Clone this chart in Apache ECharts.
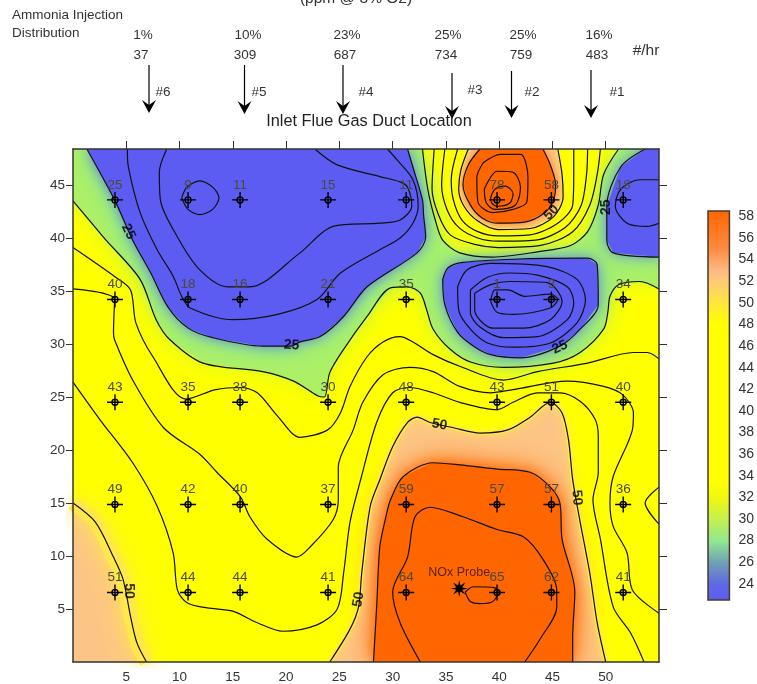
<!DOCTYPE html>
<html>
<head>
<meta charset="utf-8">
<style>html,body{margin:0;padding:0;background:#fff}#c{width:757px;height:684px}</style>
<script src="https://cdn.jsdelivr.net/npm/echarts@6/dist/echarts.min.js"></script>
</head>
<body>
<div id="c"></div>
<script>
// ---- axis values
const xTicks = [5,10,15,20,25,30,35,40,45,50];
const yTicks = [5,10,15,20,25,30,35,40,45];
const barTicks = [24,26,28,30,32,34,36,38,40,42,44,46,48,50,52,54,56,58];
const xMax = 55, yMax = 48.4;

// ---- measured grid
const probeX = [3.94,10.8,15.68,23.94,31.27,39.8,44.9,51.64];
const probeY = [43.6,34.2,24.5,14.86,6.56];
const row1 = [25,9,11,15,11,78,58,18];
const row2 = [40,18,16,21,35,1,3,34];
const row3 = [43,35,38,30,48,43,51,40];
const row4 = [49,42,40,37,59,57,57,36];
const row5 = [51,44,44,41,64,65,62,41];
const noxProbe = [36.25,6.93];

// ---- injection labels
const injectionPct = ['1%','10%','23%','25%','25%','16%'];
const injectionRate = ['37','309','687','734','759','483'];
const burners = ['#6','#5','#4','#3','#2','#1'];

// ---- contours, [x, y] in duct units
const c10a = [[10.2,43.8],[10.7,44.8],[11.9,45.4],[13.1,44.8],[13.7,43.8],[13.1,42.7],[11.9,42.2],[10.8,42.7],[10.2,43.8]];
const c15a = [[8.8,48.4],[8.1,46.2],[8.2,43.6],[9.8,40.1],[11.9,37.0],[14.5,35.4],[16.6,35.4],[21.3,38.6],[24.4,41.1],[28.8,41.4],[30.7,41.7],[31.8,43.0],[31.4,44.8],[30.7,45.3],[28.8,45.8],[24.8,46.9],[22.7,48.4]];
const c20a = [[5.1,48.4],[5.2,46.7],[6.3,42.4],[7.9,38.9],[9.4,36.4],[10.2,34.5],[11.0,33.4],[15.0,32.3],[19.2,32.8],[22.9,34.2],[25.1,36.7],[28.8,38.9],[30.7,40.0],[31.9,41.4],[32.4,43.0],[31.9,45.5],[30.4,47.4],[29.5,48.4]];
const c25a = [[1.3,48.4],[3.9,43.6],[5.6,39.8],[7.3,36.7],[8.9,33.5],[10.8,31.5],[13.1,30.6],[17.8,29.8],[20.5,29.8],[21.3,30.2],[23.2,30.7],[25.4,32.6],[27.6,35.4],[32.3,38.6],[33.1,40.1],[32.9,42.2],[32.8,43.6],[31.9,46.7],[31.4,48.4]];
const c25b = [[34.7,36.1],[35.2,37.2],[36.6,37.7],[41.3,38.0],[48.3,38.1],[49.2,37.5],[49.3,33.7],[47.6,31.4],[45.7,29.8],[42.0,28.7],[39.2,29.0],[37.6,29.8],[36.1,31.1],[34.9,33.7],[34.7,36.1]];
const c20b = [[36.1,35.4],[37.0,37.0],[39.2,37.6],[44.5,37.3],[47.3,36.1],[48.1,34.2],[47.3,32.0],[44.8,30.1],[41.3,29.7],[38.9,30.1],[37.3,31.4],[36.2,33.2],[36.1,35.4]];
const c15b = [[37.3,35.1],[38.9,36.3],[41.0,36.7],[43.6,36.5],[46.4,35.4],[47.0,33.9],[46.4,32.3],[43.6,30.7],[40.4,30.6],[38.2,31.6],[37.3,33.0],[37.3,35.1]];
const c10b = [[37.7,34.8],[39.2,35.6],[41.0,35.9],[44.5,35.8],[45.9,34.0],[44.8,32.3],[42.3,31.5],[39.4,31.5],[37.7,33.2],[37.7,34.8]];
const c5b = [[39.2,34.0],[39.6,35.1],[40.8,35.1],[42.4,34.5],[44.8,34.7],[45.5,34.2],[44.8,33.4],[41.3,32.8],[39.8,33.0],[39.2,34.0]];
const c25c = [[53.7,48.4],[51.4,46.7],[50.1,43.0],[50.1,39.8],[50.7,38.6],[55,38.2]];
const c20c = [[55,45.5],[53.2,45.5],[51.4,44.6],[50.9,43.0],[52.0,41.4],[53.9,41.1],[55,41.4]];
const c30a = [[0,43.5],[2.5,40.5],[3.1,39.8],[6.3,36.1],[7.8,32.3],[9.1,30.4],[12.2,28.2],[17.8,27.4],[20.7,26.5],[23.0,25.1],[23.6,25.0],[24.1,27.3],[25.4,29.5],[27.6,32.6],[29.8,35.3],[31.4,35.4],[32.6,34.8],[33.2,33.2],[33.8,31.4],[35.4,29.5],[37.3,28.3],[40.4,27.8],[45.1,28.2],[47.6,29.2],[49.8,31.4],[50.2,33.0],[50.4,34.5],[51.2,35.6],[53.2,35.9],[55,35.2]];
const c35a = [[0,39.1],[4.0,36.3],[5.4,35.1],[5.9,32.0],[7.5,28.8],[10.6,24.8],[13.4,25.7],[15.7,25.9],[17.3,25.4],[19.2,23.2],[21.3,21.2],[23.9,21.9],[25.1,23.5],[26.0,26.0],[27.6,28.8],[29.1,30.2],[30.7,30.7],[31.9,30.2],[33.8,29.0],[36.3,27.9],[40.4,26.6],[43.6,27.4],[48.3,28.2],[52.6,29.2],[53.9,29.2],[55,28.6]];
const c35b = [[55,16.5],[53.7,15.0],[55,13.0]];
const c40a = [[0,35.2],[3.9,34.2],[3.8,31.1],[3.9,30.4],[5.6,26.6],[8.5,22.1],[11.9,19.6],[13.5,17.9],[15.7,15.6],[16.6,13.7],[18.2,11.6],[21.0,9.9],[22.3,10.9],[24.4,13.4],[24.9,15.3],[24.9,18.4],[26.3,21.9],[27.2,24.5],[29.1,27.1],[31.6,27.8],[33.8,27.4],[36.3,26.0],[39.2,25.4],[41.3,25.7],[46.4,26.5],[49.8,26.0],[51.6,25.2],[52.6,23.5],[52.5,21.9],[50.7,17.5],[50.4,15.0],[50.7,12.8],[52.0,10.3],[52.5,6.8],[55,4.6]];
const c45a = [[0,26.4],[2.5,22.9],[5.6,18.8],[7.9,14.7],[9.4,10.3],[9.8,6.8],[10.7,5.6],[12.6,5.1],[15.0,4.8],[17.3,3.7],[19.7,2.9],[22.9,3.5],[24.8,5.0],[25.4,8.4],[26.0,13.2],[27.0,17.2],[28.5,22.6],[30.0,25.4],[31.6,25.9],[33.8,25.4],[36.3,24.5],[39.8,23.8],[41.3,24.5],[43.6,25.4],[45.7,25.4],[47.6,24.6],[49.0,22.9],[49.3,21.3],[49.3,17.9],[48.8,15.3],[49.5,11.6],[50.7,5.2],[52.3,2.8],[53.6,0]];
const c50a = [[0,15.0],[2.1,13.2],[3.8,9.9],[4.7,7.8],[5.4,4.3],[6.0,1.8],[6.9,0]];
const c50b = [[24.1,0],[26.0,3.1],[26.8,5.2],[27.1,8.4],[27.9,14.7],[28.8,17.2],[30.0,20.3],[31.4,22.6],[32.3,23.1],[33.5,22.6],[35.7,22.1],[38.2,21.6],[40.8,21.9],[42.9,23.1],[44.8,24.5],[45.9,23.5],[46.5,21.0],[46.9,17.2],[47.6,13.2],[48.5,8.4],[49.2,3.7],[50.0,0]];
const c55b = [[28.2,0],[28.5,5.2],[28.8,10.9],[29.3,13.4],[29.8,15.3],[31.0,17.5],[33.8,18.8],[36.3,18.6],[39.8,18.2],[42.9,17.9],[44.8,16.5],[45.7,15.0],[45.9,11.6],[47.1,6.6],[46.9,2.4],[46.9,0]];
const c60b = [[32.6,0],[30.7,3.7],[30.0,6.6],[31.4,9.9],[32.1,13.7],[33.5,14.6],[36.6,13.7],[39.8,12.5],[42.3,11.8],[44.1,9.7],[45.4,6.8],[45.4,5.2],[43.8,2.1],[42.4,0]];
const c65b = [[36.8,6.6],[37.6,7.1],[39.6,7.0],[39.9,6.6],[39.4,5.7],[38.2,5.5],[37.3,5.7],[36.8,6.6]];
const p30 = [[32.8,48.4],[33.3,44.6],[34.0,41.7],[34.7,39.8],[36.3,38.6],[39.4,38.2],[43.6,38.7],[46.7,39.3],[48.3,40.6],[49.3,43.1],[49.8,46.0],[51.2,48.4]];
const p35 = [[33.9,48.4],[33.7,44.6],[34.3,42.2],[35.4,40.3],[37.7,39.4],[39.9,39.1],[43.9,39.3],[46.9,40.6],[48.5,43.1],[49.2,46.0],[49.5,48.4]];
const p40 = [[34.9,48.4],[34.6,45.0],[35.1,42.7],[36.2,41.0],[38.0,40.0],[39.9,39.7],[43.4,39.8],[46.2,41.0],[47.7,43.1],[48.2,46.0],[48.3,48.4]];
const p45 = [[36.1,48.4],[35.5,45.5],[35.7,43.6],[36.5,41.7],[38.0,40.6],[39.9,40.2],[42.9,40.3],[45.5,41.4],[46.9,43.1],[47.0,46.0],[47.0,48.4]];
const p50 = [[37.1,48.4],[36.4,46.4],[36.2,44.6],[36.7,43.0],[38.0,41.6],[39.9,40.8],[42.9,40.9],[45.1,42.0],[46.0,43.9],[45.9,46.0],[45.5,48.4]];
const p55 = [[38.2,48.4],[37.1,46.9],[36.6,45.0],[37.3,43.1],[38.4,41.9],[39.9,41.4],[42.4,41.5],[44.3,42.4],[45.1,43.6],[45.3,45.0],[44.8,46.9],[44.1,48.4]];
const p60 = [[38.5,47.1],[40.1,47.9],[42.0,47.9],[42.7,45.7],[42.6,43.4],[41.3,42.7],[39.4,42.4],[38.0,43.4],[37.9,45.7],[38.5,47.1]];
const p65 = [[38.6,44.6],[39.8,46.3],[41.3,46.2],[42.0,44.8],[41.5,43.1],[39.6,42.7],[38.8,43.3],[38.6,44.6]];
const p75 = [[39.2,43.8],[39.6,44.6],[40.6,44.9],[41.3,44.2],[41.0,43.3],[39.9,43.0],[39.3,43.3],[39.2,43.8]];
// labels written along the contours: x, y, text, rotation
const contourLabels = [[20.5,29.9,'25',-4],[5.2,40.6,'25',-65],[45.7,29.7,'25',25],[50.0,42.9,'25',90],[34.4,22.4,'50',-10],[47.3,15.5,'50',-85],[26.8,5.9,'50',80],[44.9,42.4,'50',45],[5.2,6.7,'50',-90]];

// ---- colour bar
const barLevels = [22.5,24,26,28,30,32,33.5,48,50,52,53,55,58.5];
const barColors = ['#5c5cf2','#6068e4','#6fa0b4','#90e890','#c4f050','#f0f810','#ffff00','#ffff00','#ffe63c','#fdca78','#fcb880','#ff8a40','#ff6600'];

const allContours = [c10a,c15a,c20a,c25a,c25b,c20b,c15b,c10b,c5b,c25c,c20c,c30a,c35a,c35b,c40a,c45a,c50a,c50b,c55b,c60b,c65b,p30,p35,p40,p45,p50,p55,p60,p65,p75];
const rows = [row1,row2,row3,row4,row5];

const FONT = '"Liberation Sans", Arial, sans-serif';
const crossPath = 'path://M0 7.3H16V8.7H0Z M7.3 0H8.7V16H7.3Z M8 4.3A3.7 3.7 0 1 1 8 11.7A3.7 3.7 0 1 1 8 4.3Z M8 5.7A2.3 2.3 0 1 0 8 10.3A2.3 2.3 0 1 0 8 5.7Z';
const starPath = 'path://M8 0L9.1 5.2L13.7 2.3L10.8 6.9L16 8L10.8 9.1L13.7 13.7L9.1 10.8L8 16L6.9 10.8L2.3 13.7L5.2 9.1L0 8L5.2 6.9L2.3 2.3L6.9 5.2Z';

function fillRegion(points, color, blur, shadow) {
  return {
    type: 'custom', silent: true, clip: true, z: 2, animation: false,
    data: points, encode: {x: 0, y: 1},
    renderItem: function (params, api) {
      if (params.dataIndex !== 0) return null;
      return {
        type: 'polygon',
        shape: {points: points.map(function (p) { return api.coord(p); })},
        style: {fill: color, shadowBlur: blur, shadowColor: shadow || color}
      };
    }
  };
}
function softEdge(points, w, b) {
  return {type:'line', silent:true, z:2, data:points, showSymbol:false, smooth:0.25, animation:false,
    lineStyle:{color:'#ffe84a', width:w, shadowBlur:b, shadowColor:'#ffe84a'}};
}
const lowRegion = c30a.concat([[55,48.4]], p30.slice().reverse(), [[0,48.4]]);
const blueLeft = c25a;
const blueMid = c25b;
const blueRight = c25c.concat([[55,48.4]]);
const GREEN = '#8cec94';
const BLUE = '#5c5cf2';
const fills = [
  fillRegion(lowRegion, '#aef064', 20, '#dcf828'),
  fillRegion(blueLeft, GREEN, 36),
  fillRegion(blueMid, GREEN, 36),
  fillRegion(blueRight, GREEN, 36),
  fillRegion(blueLeft, GREEN, 20),
  fillRegion(blueMid, GREEN, 20),
  fillRegion(blueRight, GREEN, 20),
  fillRegion(blueLeft, BLUE, 14, '#5f74d8'),
  fillRegion(blueMid, BLUE, 14, '#5f74d8'),
  fillRegion(blueRight, BLUE, 14, '#5f74d8'),
  fillRegion(c50a.concat([[0,0]]), '#fdc585', 0),
  softEdge(c50a, 14, 26),
  softEdge(c50a, 8, 14),
  fillRegion(c50b, '#fdc585', 0),
  fillRegion(p50, '#fdc585', 0),
  softEdge(c50b, 4, 10),
  softEdge(p50, 2, 5),
  fillRegion(c55b, '#ff6600', 30),
  fillRegion(c55b, '#ff6600', 14),
  fillRegion(p55, '#ff6600', 10)
];
const contourSeries = allContours.map(function (pts) {
  return {type:'line', silent:true, z:5, data:pts, showSymbol:false, smooth:0.3, animation:false,
    lineStyle:{color:'#111', width:1.2}};
});
const probePoints = [];
rows.forEach(function (r, j) { r.forEach(function (v, i) { probePoints.push([probeX[i], probeY[j], v]); }); });

const series = fills.concat(contourSeries, [
  {type:'scatter', silent:true, z:10, animation:false, symbol:crossPath, symbolSize:[16,16], data:probePoints,
   itemStyle:{color:'#000', opacity:1},
   label:{show:true, position:'top', distance:0, fontFamily:FONT, fontSize:13.5, color:'#4a4a3a',
          formatter:function (p) { return String(p.value[2]); }}},
  {type:'scatter', silent:true, z:11, animation:false, symbol:starPath, symbolSize:[17,17], data:[noxProbe],
   itemStyle:{color:'#000', opacity:1},
   label:{show:true, position:'top', distance:1, fontFamily:FONT, fontSize:12.5, color:'#5a2400', formatter:'NOx Probe'}},
  {type:'scatter', silent:true, z:12, animation:false, symbolSize:0,
   data:contourLabels.map(function (l) {
     return {value:[l[0],l[1]], label:{show:true, position:'inside', rotate:l[3], formatter:l[2], fontFamily:FONT, fontSize:14, fontWeight:'bold', color:'#000'}};
   })},
  {type:'custom', silent:true, xAxisIndex:2, yAxisIndex:2, z:3, animation:false, clip:false,
   data:[[0,barLevels[0]],[1,barLevels[barLevels.length-1]]], encode:{x:0,y:1},
   renderItem:function (params, api) {
     if (params.dataIndex !== 0) return null;
     const lo = api.coord([0, barLevels[0]]), hi = api.coord([1, barLevels[barLevels.length-1]]);
     const span = barLevels[barLevels.length-1]-barLevels[0];
     const stops = barLevels.map(function (l,i) { return {offset:(l-barLevels[0])/span, color:barColors[i]}; });
     return {type:'rect', shape:{x:lo[0], y:hi[1], width:hi[0]-lo[0], height:lo[1]-hi[1]},
       style:{fill:new echarts.graphic.LinearGradient(0,1,0,0,stops), stroke:'#4a3a2c', lineWidth:1.5}};
   }}
]);

// ---- annotations above the plot
const pctX = [143,248,347,448,523,599];
const rateX = [141,245,345,446,521,597];
const arrowX = [149,244.5,343,452,511.5,591];
const arrowTop = [65,65,65,73,71,70];
const arrowTip = [113,114,114,119,118,118];
const burnerX = [163,259,366,475,532,617];
const burnerY = [92,92,92,90,92,92];
const graphics = [];
function txt(s,x,y,size,align,color) {
  graphics.push({type:'text', x:x, y:y, silent:true, z:20,
    style:{text:s, font:size+'px '+FONT, fill:color||'#333', textAlign:align||'center', textVerticalAlign:'middle'}});
}
txt('(ppm @ 3% O2)',356,-1,15.5);
txt('Ammonia Injection',12,15,13.5,'left');
txt('Distribution',12,33,13.5,'left');
injectionPct.forEach(function (s,i) { txt(s,pctX[i],35,13.5); });
injectionRate.forEach(function (s,i) { txt(s,rateX[i],55,13.5); });
burners.forEach(function (s,i) { txt(s,burnerX[i],burnerY[i],13.5); });
txt('#/hr',646,51,15.5);
arrowX.forEach(function (x,i) {
  const t = arrowTip[i];
  graphics.push({type:'line', silent:true, z:19, shape:{x1:x,y1:arrowTop[i],x2:x,y2:t-4}, style:{stroke:'#000', lineWidth:1.2}});
  graphics.push({type:'polygon', silent:true, z:19, shape:{points:[[x,t],[x-7,t-13],[x,t-8],[x+7,t-13]]}, style:{fill:'#000'}});
});
txt('Inlet Flue Gas Duct Location',369,122,16.3,'center','#222');

const axisColor = '#333';
const chart = echarts.init(document.getElementById('c'), null, {renderer:'canvas'});
chart.setOption({
  animation:false,
  backgroundColor:'#fff',
  grid:[
    {left:73, top:149, width:586, height:513.5, show:true, backgroundColor:'#ffff00', borderWidth:0, z:0},
    {left:708, top:211, width:25, height:389, show:false}
  ],
  xAxis:[
    {type:'value', gridIndex:0, position:'bottom', min:0, max:xMax, interval:5, z:8,
     splitLine:{show:false}, axisLine:{onZero:false, lineStyle:{color:axisColor, width:1.5}}, axisTick:{show:false},
     axisLabel:{customValues:xTicks, margin:8, fontFamily:FONT, fontSize:13.5, color:'#333'}},
    {type:'value', gridIndex:0, position:'top', min:0, max:xMax, interval:5, z:8,
     splitLine:{show:false}, axisLine:{onZero:false, lineStyle:{color:axisColor, width:1.5}},
     axisTick:{customValues:xTicks, length:8, lineStyle:{color:axisColor}}, axisLabel:{show:false}},
    {type:'value', gridIndex:1, min:0, max:1, show:false}
  ],
  yAxis:[
    {type:'value', gridIndex:0, position:'left', min:0, max:yMax, interval:5, z:8,
     splitLine:{show:false}, axisLine:{onZero:false, lineStyle:{color:axisColor, width:1.5}},
     axisTick:{customValues:yTicks, length:7, lineStyle:{color:axisColor}},
     axisLabel:{customValues:yTicks, margin:8, fontFamily:FONT, fontSize:13.5, color:'#333'}},
    {type:'value', gridIndex:0, position:'right', min:0, max:yMax, interval:5, z:8,
     splitLine:{show:false}, axisLine:{onZero:false, lineStyle:{color:axisColor, width:1.5}},
     axisTick:{customValues:yTicks, length:8, lineStyle:{color:axisColor}}, axisLabel:{show:false}},
    {type:'value', gridIndex:1, position:'right', min:22.5, max:58.5, interval:2,
     splitLine:{show:false}, axisLine:{show:false},
     axisTick:{customValues:barTicks, length:7, lineStyle:{color:axisColor}},
     axisLabel:{customValues:barTicks, margin:9, fontFamily:FONT, fontSize:14, color:'#333'}}
  ],
  series:series,
  graphic:graphics
});
</script>
</body>
</html>
